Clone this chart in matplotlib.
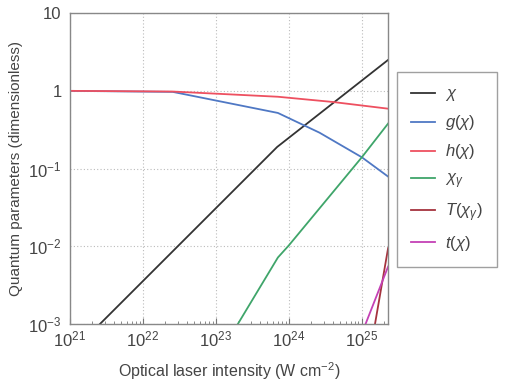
import numpy as np
import matplotlib
matplotlib.use("Agg")
import matplotlib.pyplot as plt
from matplotlib.ticker import LogLocator, FixedLocator, NullFormatter

plt.rcParams["font.family"] = ["Liberation Sans", "DejaVu Sans"]
plt.rcParams["mathtext.fontset"] = "custom"
plt.rcParams["mathtext.rm"] = "Liberation Sans"
plt.rcParams["mathtext.it"] = "Liberation Sans:italic"

# log10 of intensity (W cm^-2) and curve values
chi_logI = [21.41, 23.84, 25.36]
chi_val = [1e-3, 0.19, 2.5]

g_logI = [21.0, 22.41, 23.85, 24.42, 25.0, 25.36]
g_val = [1.0, 0.97, 0.52, 0.29, 0.14, 0.079]

h_logI = [21.0, 22.41, 23.85, 24.6, 25.36]
h_val = [1.0, 0.98, 0.84, 0.72, 0.59]

chig_logI = [23.30, 23.85, 24.0, 25.0, 25.36]
chig_val = [1e-3, 0.0072, 0.0103, 0.14, 0.38]

T_logI = [25.18, 25.36]
T_val = [1e-3, 0.0095]

t_logI = [25.05, 25.36]
t_val = [1e-3, 0.0055]

series = [
    (chi_logI, chi_val, "#333333", r"$\chi$"),
    (g_logI, g_val, "#4f78c4", r"$g(\chi)$"),
    (h_logI, h_val, "#ee5060", r"$h(\chi)$"),
    (chig_logI, chig_val, "#3fa56a", r"$\chi_\gamma$"),
    (T_logI, T_val, "#a5333e", r"$T(\chi_\gamma)$"),
    (t_logI, t_val, "#c441b5", r"$t(\chi)$"),
]

fig = plt.figure(figsize=(5.1, 3.85), dpi=100)
ax = fig.add_axes([0.137, 0.158, 0.624, 0.808])

for lx, v, c, lab in series:
    ax.plot(10 ** np.array(lx), v, color=c, lw=1.3, label=lab)

ax.set_xscale("log")
ax.set_yscale("log")
ax.set_xlim(1e21, 10 ** 25.36)
ax.set_ylim(1e-3, 10)

ax.xaxis.set_major_locator(FixedLocator([1e21, 1e22, 1e23, 1e24, 1e25]))
ax.xaxis.set_minor_locator(LogLocator(base=10, subs=np.arange(2, 10)))
ax.xaxis.set_minor_formatter(NullFormatter())
ax.set_xticklabels([r"$10^{21}$", r"$10^{22}$", r"$10^{23}$", r"$10^{24}$", r"$10^{25}$"])
ax.yaxis.set_major_locator(FixedLocator([1e-3, 1e-2, 1e-1, 1, 10]))
ax.yaxis.set_minor_locator(FixedLocator([]))
ax.set_yticklabels([r"$10^{-3}$", r"$10^{-2}$", r"$10^{-1}$", "1", "10"])

ax.tick_params(axis="x", which="major", direction="in", length=4, color="#777777",
               labelsize=12, labelcolor="#444444", pad=4, top=False)
ax.tick_params(axis="x", which="minor", direction="in", length=2.5, color="#777777", top=False)
ax.tick_params(axis="y", which="major", length=0, labelsize=12, labelcolor="#444444", pad=6)

for s in ax.spines.values():
    s.set_color("#888888")
    s.set_linewidth(1.0)

ax.grid(True, which="major", linestyle=(0, (1, 2)), color="#bbbbbb", lw=0.8)

ax.set_xlabel(r"Optical laser intensity (W cm$^{-2}$)", fontsize=11.5, color="#444444", labelpad=8)
ax.set_ylabel("Quantum parameters (dimensionless)", fontsize=11, color="#444444", labelpad=4)

leg = ax.legend(loc="upper left", bbox_to_anchor=(1.028, 0.81), fontsize=12,
                frameon=True, fancybox=False, edgecolor="#888888",
                handlelength=1.45, handletextpad=0.6, labelspacing=0.6,
                borderpad=0.85, borderaxespad=0)
leg.get_frame().set_linewidth(1.0)
for t in leg.get_texts():
    t.set_color("#444444")

fig.savefig("out.png", dpi=100)
